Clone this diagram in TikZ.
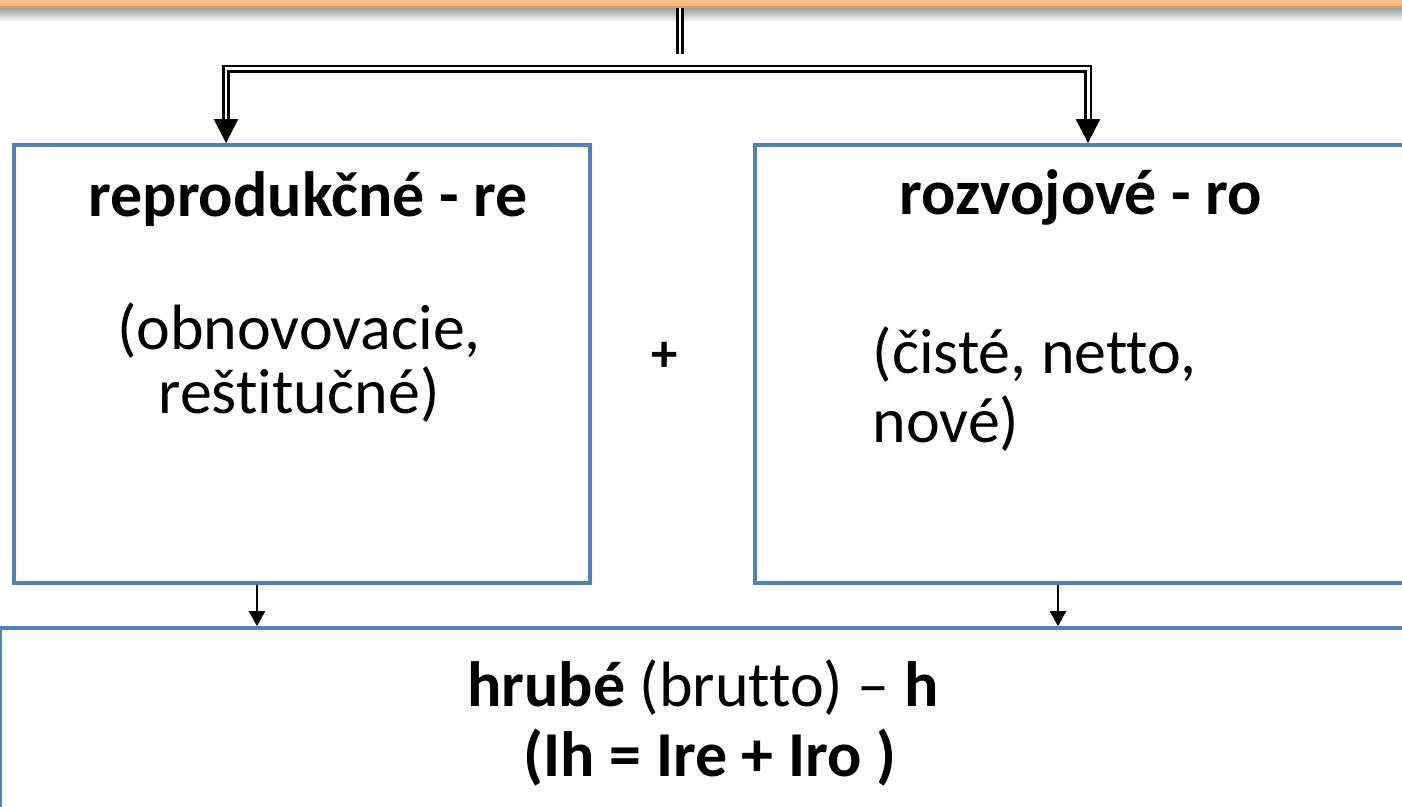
\documentclass[tikz,border=0pt]{standalone}
\usepackage{fontspec}
\setmainfont{Carlito}[Ligatures=NoCommon]
\usetikzlibrary{arrows.meta}
\definecolor{boxblue}{HTML}{4F81BD}
\definecolor{barfill}{HTML}{FCBF86}
\definecolor{barline}{HTML}{F79646}

\begin{document}
\begin{tikzpicture}[x=0.01cm, y=-0.01cm,
  box/.style={draw=boxblue, line width=1pt, inner sep=0pt},
  dblline/.style={double, double distance=0.85pt, line width=0.6pt, line join=miter},
  bigtip/.style={line width=0.6pt, -{Triangle[width=0.24cm, length=0.24cm]}},
  smallarr/.style={line width=0.6pt, -{Triangle[width=0.16cm, length=0.15cm]}},
  boldtxt/.style={font=\bfseries\fontsize{18.2}{18.2}\selectfont, inner sep=0pt},
  plaintxt/.style={font=\fontsize{18.2}{18.2}\selectfont, inner sep=0pt}]

\clip (0,0) rectangle (1402,807);

% Top bar (cut off) and its shadow
\shade[top color=black!35, bottom color=white] (0,9) rectangle (1402,22);
\node[draw=barline, fill=barfill, line width=0.6pt, minimum width=14.4cm, minimum height=0.5cm,
  inner sep=0pt, anchor=south] (top) at (701,8.5) {};

% Boxes
\node[box, minimum width=5.76cm, minimum height=4.38cm] (lbox) at (302,364) {};
\node[box, minimum width=6.65cm, minimum height=4.38cm] (rbox) at (1087.5,364) {};
\node[box, minimum width=14.2cm, minimum height=2.24cm] (hbox) at (711,740) {};

% Texts (base = baseline of the last line)
\node[boldtxt, anchor=base] (retitle) at (308,217) {reprodukčné - re};
\node[plaintxt, align=center, anchor=base] (retext) at (299,414) {(obnovovacie,\\reštitučné)};
\node[boldtxt, anchor=base] (rotitle) at (1081,215) {rozvojové - ro};
\node[plaintxt, align=left, anchor=base west, font=\fontsize{18.2}{19.9}\selectfont] (rotext) at (872,443) {(čisté, netto,\\nové)};
\node[font=\bfseries\fontsize{15}{15}\selectfont, inner sep=0pt] (plus) at (665,357) {+};
\node[plaintxt, anchor=base] (htitle) at (703,707) {\textbf{hrubé} (brutto) – \textbf{h}};
\node[boldtxt, anchor=base] (hform) at (710,777) {(Ih = Ire + Iro )};

% Connectors
\coordinate (split) at (680,54);
\coordinate (rbend) at (1088,69);
\coordinate (lhead) at (226,121);
\coordinate (rhead) at (1088,121);
\coordinate (lout) at (257,583);
\coordinate (rout) at (1058,583);

\draw[dblline] (top.south -| split) -- (split);
\draw[dblline] (lhead) |- (rbend) -- (rhead);
\draw[bigtip] (lhead) -- (lbox.north -| lhead);
\draw[bigtip] (rhead) -- (rbox.north -| rhead);
\draw[smallarr] (lbox.south -| lout) -- (hbox.north -| lout);
\draw[smallarr] (rbox.south -| rout) -- (hbox.north -| rout);

\end{tikzpicture}
\end{document}
